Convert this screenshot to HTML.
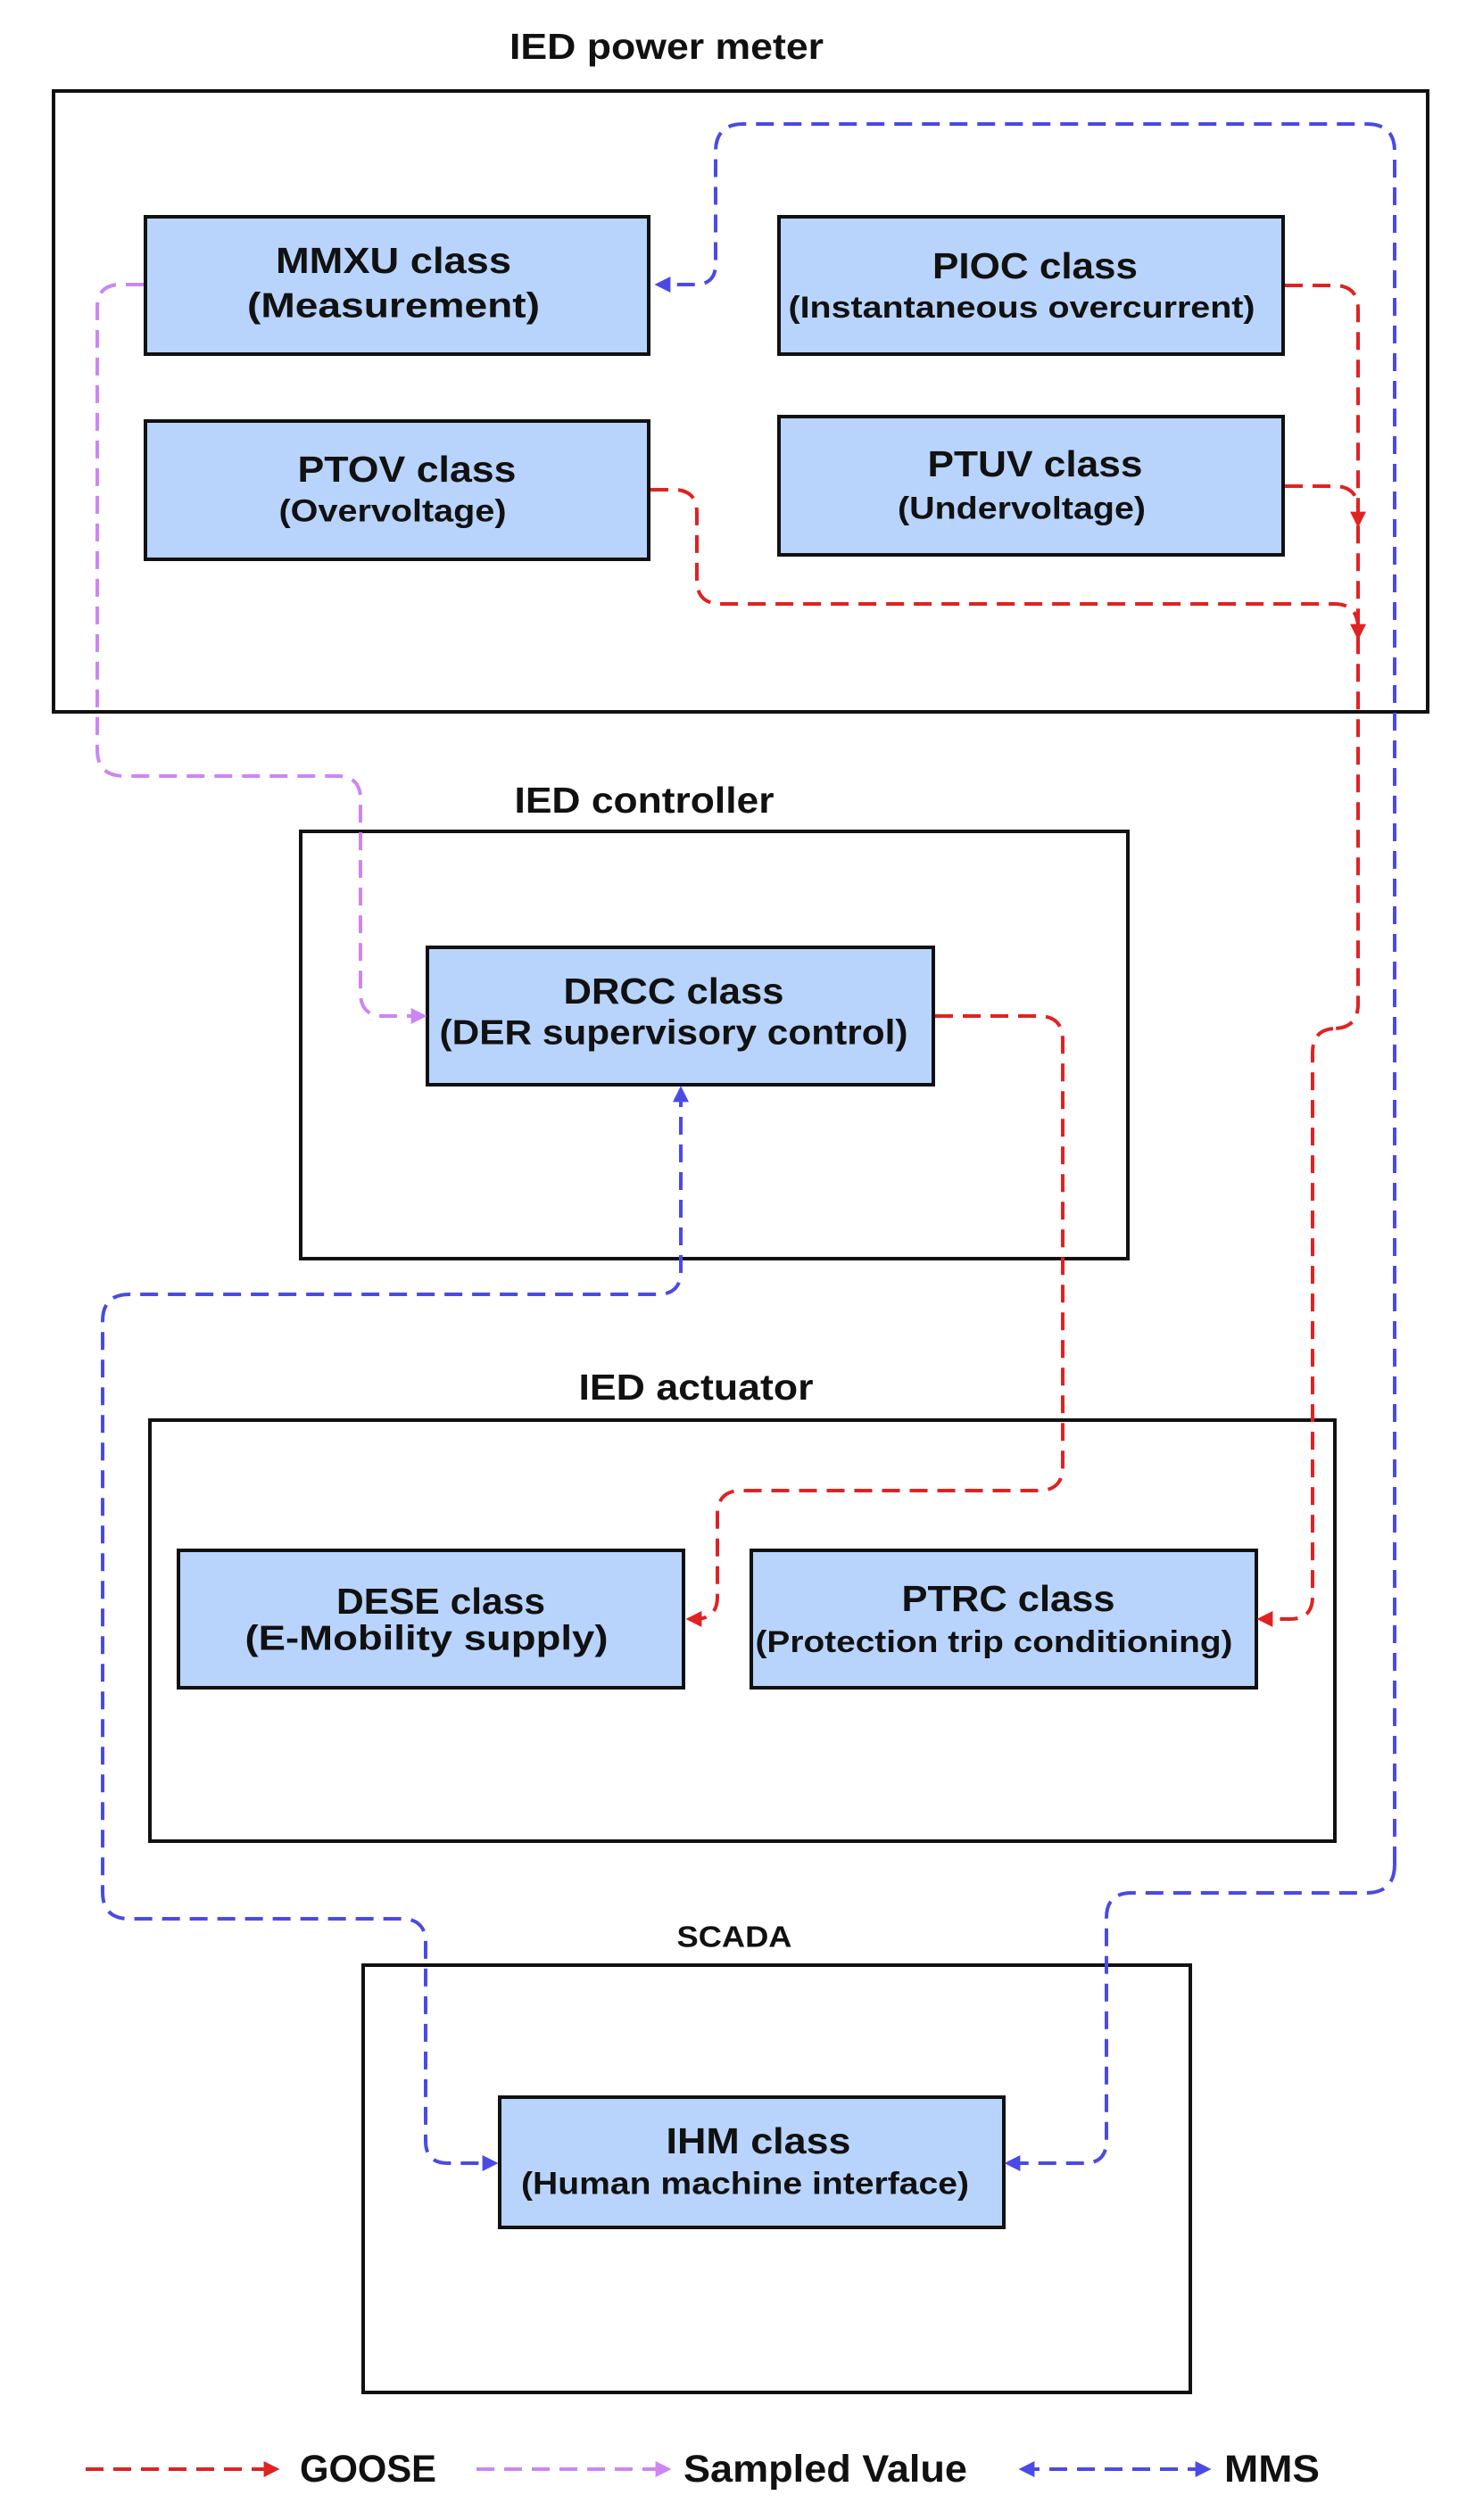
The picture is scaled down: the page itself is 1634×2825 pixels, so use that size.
<!DOCTYPE html>
<html><head><meta charset="utf-8"><style>
html,body{margin:0;padding:0;background:#fff;}
svg{display:block;}
text{font-family:"Liberation Sans",sans-serif;font-weight:bold;fill:#111;}
</style></head><body>
<svg width="1634" height="2825" viewBox="0 0 1634 2825" xmlns="http://www.w3.org/2000/svg">
<defs>
<marker id="ar" viewBox="0 0 10 10" refX="8" refY="5" markerWidth="4.5" markerHeight="4.5" orient="auto"><path d="M0,0 L10,5 L0,10 z" fill="#e02222"/></marker>
<marker id="ab" viewBox="0 0 10 10" refX="8" refY="5" markerWidth="4.5" markerHeight="4.5" orient="auto"><path d="M0,0 L10,5 L0,10 z" fill="#4a4ae6"/></marker>
<marker id="abs" viewBox="0 0 10 10" refX="2" refY="5" markerWidth="4.5" markerHeight="4.5" orient="auto"><path d="M10,0 L0,5 L10,10 z" fill="#4a4ae6"/></marker>
<marker id="ap" viewBox="0 0 10 10" refX="8" refY="5" markerWidth="4.5" markerHeight="4.5" orient="auto"><path d="M0,0 L10,5 L0,10 z" fill="#cc86f4"/></marker>
</defs>

<g fill="none" stroke="#111" stroke-width="4">
<rect x="60" y="102" width="1540" height="696"/>
<rect x="337" y="932" width="927" height="479"/>
<rect x="168" y="1592" width="1328" height="472"/>
<rect x="407" y="2203" width="927" height="479"/>
</g>
<g text-anchor="middle" dominant-baseline="central" lengthAdjust="spacingAndGlyphs">
<text x="747" y="52" font-size="41" textLength="352" lengthAdjust="spacingAndGlyphs">IED power meter</text>
<text x="722" y="897" font-size="41" textLength="291" lengthAdjust="spacingAndGlyphs">IED controller</text>
<text x="780" y="1555" font-size="41" textLength="263" lengthAdjust="spacingAndGlyphs">IED actuator</text>
<text x="823" y="2171" font-size="33" textLength="129" lengthAdjust="spacingAndGlyphs">SCADA</text>
</g>

<g fill="#b8d4fc" stroke="#111" stroke-width="4">
<rect x="163" y="243" width="564" height="154"/>
<rect x="873" y="243" width="565" height="154"/>
<rect x="163" y="472" width="564" height="155"/>
<rect x="873" y="467" width="565" height="155"/>
<rect x="479" y="1062" width="567" height="154"/>
<rect x="200" y="1738" width="566" height="154"/>
<rect x="842" y="1738" width="566" height="154"/>
<rect x="560" y="2351" width="565" height="146"/>
</g>
<g text-anchor="middle" dominant-baseline="central">
<text x="441" y="292" font-size="41" textLength="264" lengthAdjust="spacingAndGlyphs">MMXU class</text>
<text x="441" y="343" font-size="39" textLength="328" lengthAdjust="spacingAndGlyphs">(Measurement)</text>
<text x="1160" y="298" font-size="41" textLength="230" lengthAdjust="spacingAndGlyphs">PIOC class</text>
<text x="1145" y="345" font-size="34" textLength="523" lengthAdjust="spacingAndGlyphs">(Instantaneous overcurrent)</text>
<text x="456" y="526" font-size="41" textLength="245" lengthAdjust="spacingAndGlyphs">PTOV class</text>
<text x="440" y="573" font-size="35" textLength="255" lengthAdjust="spacingAndGlyphs">(Overvoltage)</text>
<text x="1160" y="520" font-size="41" textLength="241" lengthAdjust="spacingAndGlyphs">PTUV class</text>
<text x="1145" y="570" font-size="35" textLength="278" lengthAdjust="spacingAndGlyphs">(Undervoltage)</text>
<text x="755" y="1111" font-size="41" textLength="247" lengthAdjust="spacingAndGlyphs">DRCC class</text>
<text x="755" y="1158" font-size="39" textLength="525" lengthAdjust="spacingAndGlyphs">(DER supervisory control)</text>
<text x="494" y="1795" font-size="41" textLength="234" lengthAdjust="spacingAndGlyphs">DESE class</text>
<text x="478" y="1837" font-size="39" textLength="407" lengthAdjust="spacingAndGlyphs">(E-Mobility supply)</text>
<text x="1130" y="1792" font-size="41" textLength="239" lengthAdjust="spacingAndGlyphs">PTRC class</text>
<text x="1114" y="1841" font-size="34" textLength="535" lengthAdjust="spacingAndGlyphs">(Protection trip conditioning)</text>
<text x="850" y="2400" font-size="41" textLength="207" lengthAdjust="spacingAndGlyphs">IHM class</text>
<text x="835" y="2448" font-size="35" textLength="502" lengthAdjust="spacingAndGlyphs">(Human machine interface)</text>
</g>

<g fill="none" stroke-width="4" stroke-dasharray="20,11">
<path stroke="#4a4ae6" d="M1563,2090 L1563,170 Q1563,139 1532,139 L833,139 Q802,139 802,170 L802,296 Q802,319 779,319 L737,319" marker-end="url(#ab)"/>
<path stroke="#4a4ae6" d="M1563,2090 Q1563,2122 1531,2122 L1268,2122 Q1240,2122 1240,2150 L1240,2400 Q1240,2425 1215,2425 L1129,2425" marker-end="url(#ab)"/>
<path stroke="#4a4ae6" d="M763,1221 L763,1425 Q763,1451 737,1451 L145,1451 Q115,1451 115,1481 L115,2121 Q115,2151 145,2151 L450,2151 Q477,2151 477,2178 L477,2400 Q477,2425 502,2425 L555,2425" marker-end="url(#ab)" marker-start="url(#abs)"/>
<path stroke="#cc86f4" d="M161,319 L135,319 Q109,319 109,345 L109,840 Q109,870 139,870 L378,870 Q404,870 404,896 L404,1113 Q404,1139 430,1139 L475,1139" marker-end="url(#ap)"/>
<path stroke="#e02222" d="M1440,320 L1495,320 Q1522,320 1522,347 L1522,1125 Q1522,1153 1494,1153 L1498,1153 Q1471,1153 1471,1180 L1471,1790 Q1471,1815 1446,1815 L1412,1815" marker-end="url(#ar)"/>
<path stroke="#e02222" d="M1440,545 L1495,545 Q1522,545 1522,572 L1522,588" marker-end="url(#ar)"/>
<path stroke="#e02222" d="M729,549 L755,549 Q781,549 781,575 L781,650 Q781,677 808,677 L1495,677 Q1522,677 1522,704 L1522,714" marker-end="url(#ar)"/>
<path stroke="#e02222" d="M1048,1139 L1164,1139 Q1191,1139 1191,1166 L1191,1644 Q1191,1671 1164,1671 L831,1671 Q804,1671 804,1698 L804,1790 Q804,1815 779,1815 L772,1815" marker-end="url(#ar)"/>
<path stroke="#e02222" d="M96,2768 L310,2768" marker-end="url(#ar)"/>
<path stroke="#cc86f4" d="M534,2768 L749,2768" marker-end="url(#ap)"/>
<path stroke="#4a4ae6" d="M1145,2768 L1354,2768" marker-end="url(#ab)" marker-start="url(#abs)"/>
</g>
<g dominant-baseline="central" font-size="43">
<text x="336" y="2768" textLength="153" lengthAdjust="spacingAndGlyphs">GOOSE</text>
<text x="766" y="2768" textLength="318" lengthAdjust="spacingAndGlyphs">Sampled Value</text>
<text x="1372" y="2768" textLength="107" lengthAdjust="spacingAndGlyphs">MMS</text>
</g>
</svg>
</body></html>
